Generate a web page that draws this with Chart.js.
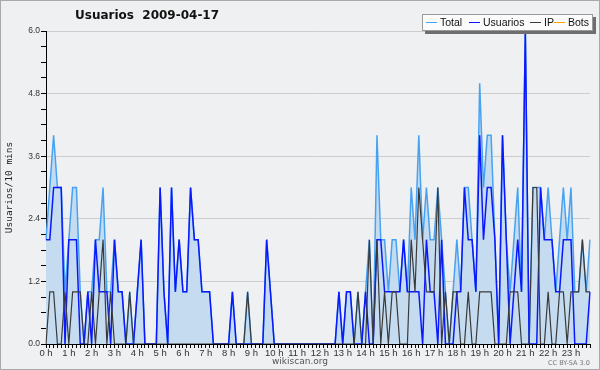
<!DOCTYPE html>
<html>
<head>
<meta charset="utf-8">
<script src="https://cdn.jsdelivr.net/npm/chart.js@4.4.1/dist/chart.umd.min.js"></script>
<style>
  html, body { margin: 0; padding: 0; background: #efefef; }
  #wrap { position: relative; width: 600px; height: 370px; background: #eff0f1; overflow: hidden; }
  #c { position: absolute; left: 0; top: 0; }
  #frame { position: absolute; left: 0; top: 0; width: 600px; height: 370px; box-sizing: border-box; border: 1px solid #a9a9a9; pointer-events: none; }
  #title { position: absolute; left: 75px; top: 8px; font: bold 12px "DejaVu Sans", sans-serif; color: #111; white-space: pre; }
  #legend { position: absolute; left: 422px; top: 14px; width: 171px; height: 17px; box-sizing: border-box; background: #fbfbfb; border: 1px solid #9a9a9a; box-shadow: 3px 3px 0 #6e6e6e; font: 10.5px "Liberation Sans", sans-serif; color: #111; white-space: nowrap; }
  #legend span.swatch { position: absolute; top: 7px; width: 11px; height: 0; border-top: 1.5px solid; }
  #legend span.txt { position: absolute; top: 1px; line-height: 13px; }
  #site { position: absolute; left: 0; width: 600px; top: 356px; text-align: center; font: 9px "DejaVu Sans", sans-serif; color: #555; }
  #lic { position: absolute; left: 548px; top: 359px; font: 6.5px "DejaVu Sans", sans-serif; color: #777; }
</style>
</head>
<body>
<div id="wrap">
  <canvas id="c" width="600" height="370"></canvas>
  <div id="title"></div>
  <div id="legend"></div>
  <div id="site">wikiscan.org</div>
  <div id="lic">CC BY-SA 3.0</div>
  <div id="frame"></div>
</div>
<script>
// ---- data (one point every 10 minutes, 144 points) ----
const chartTitle = 'Usuarios  2009-04-17';
const yAxisTitle = 'Usuarios/10 mins';
const hourLabels = ['0 h','1 h','2 h','3 h','4 h','5 h','6 h','7 h','8 h','9 h','10 h','11 h',
                    '12 h','13 h','14 h','15 h','16 h','17 h','18 h','19 h','20 h','21 h','22 h','23 h'];
const yTickLabels = ['0.0','1.2','2.4','3.6','4.8','6.0'];
const seriesNames = ['Total','Usuarios','IP','Bots'];
const seriesColors = ['#48a2f2','#0a18ff','#3a3a3a','#ffa500'];

const categories = [];
for (let h = 0; h < 24; h++) for (let m = 0; m < 60; m += 10) categories.push(h + ':' + String(m).padStart(2,'0'));

const totalValues = [
  2,3,4,3,3,1,2,3,3,1,  0,1,1,2,2,3,1,1,2,1,  1,0,1,0,1,2,0,0,0,0,
  3,1,0,3,1,2,1,1,3,2,  2,1,1,1,0,0,0,0,0,1,  0,0,0,1,0,0,0,0,2,1,
  0,0,0,0,0,0,0,0,0,0,  0,0,0,0,0,0,0,1,0,1,  1,0,1,0,1,2,0,4,2,2,
  1,2,2,1,2,1,3,2,4,2,  3,2,2,3,2,1,0,1,2,1,  3,3,2,1,5,3,4,4,2,0,
  4,2,1,2,3,1,6,0,3,3,  3,2,3,2,1,2,3,2,3,1,  1,2,1,2
];
const userValues = [
  2,2,3,3,3,0,2,2,2,0,  0,1,0,2,1,1,1,0,2,1,  1,0,0,0,1,2,0,0,0,0,
  3,1,0,3,1,2,1,1,3,2,  2,1,1,1,0,0,0,0,0,1,  0,0,0,0,0,0,0,0,2,1,
  0,0,0,0,0,0,0,0,0,0,  0,0,0,0,0,0,0,1,0,1,  1,0,0,0,1,0,0,2,2,1,
  1,1,1,1,2,1,1,1,1,0,  2,1,1,0,2,0,0,0,1,1,  3,2,2,1,4,2,3,3,2,0,
  4,2,0,1,2,1,6,0,0,0,  3,2,2,2,1,1,2,2,2,0,  0,0,0,1
];
const ipValues = [
  0,1,1,0,0,1,0,1,1,1,  0,0,1,0,1,2,0,1,0,0,  0,0,1,0,0,0,0,0,0,0,
  0,0,0,0,0,0,0,0,0,0,  0,0,0,0,0,0,0,0,0,0,  0,0,0,1,0,0,0,0,0,0,
  0,0,0,0,0,0,0,0,0,0,  0,0,0,0,0,0,0,0,0,0,  0,0,1,0,0,2,0,2,0,1,
  0,1,1,0,0,0,2,1,3,2,  1,1,1,3,0,1,0,1,1,0,  0,1,0,0,1,1,1,1,0,0,
  0,0,1,1,1,0,0,0,3,3,  0,0,1,0,0,1,1,0,1,1,  1,2,1,1
];
const botValues = [
  0,0,0,0,0,0,0,0,0,0,  0,0,0,0,0,0,0,0,0,0,  0,0,0,0,0,0,0,0,0,0,
  0,0,0,0,0,0,0,0,0,0,  0,0,0,0,0,0,0,0,0,0,  0,0,0,0,0,0,0,0,0,0,
  0,0,0,0,0,0,0,0,0,0,  0,0,0,0,0,0,0,0,0,0,  0,0,0,0,0,0,0,0,0,0,
  0,0,0,0,0,0,0,0,0,0,  0,0,0,0,0,0,0,0,0,0,  0,0,0,0,0,0,0,0,0,0,
  0,0,0,0,0,0,0,0,0,0,  0,0,0,0,0,0,0,0,0,0,  0,0,0,0
];

// ---- texts ----
document.getElementById('title').textContent = chartTitle;
const legendEl = document.getElementById('legend');
const legendSwatchX = [3, 46, 107, 131];
const legendTextX = [17, 60, 121, 145];
seriesNames.forEach((n, i) => {
  const sw = document.createElement('span'); sw.className = 'swatch';
  sw.style.borderTopColor = seriesColors[i]; sw.style.left = legendSwatchX[i] + 'px';
  const tx = document.createElement('span'); tx.className = 'txt';
  tx.style.left = legendTextX[i] + 'px'; tx.textContent = n;
  legendEl.appendChild(sw); legendEl.appendChild(tx);
});

const isMajor = v => Math.abs(v / 1.2 - Math.round(v / 1.2)) < 1e-6;

new Chart(document.getElementById('c').getContext('2d'), {
  type: 'line',
  data: {
    labels: categories,
    datasets: [
      { label: seriesNames[2], data: ipValues, borderColor: seriesColors[2], borderWidth: 1.2, pointRadius: 0, fill: false, order: 0 },
      { label: seriesNames[1], data: userValues, borderColor: seriesColors[1], borderWidth: 1.5, pointRadius: 0, fill: false, order: 1 },
      { label: seriesNames[0], data: totalValues, borderColor: seriesColors[0], backgroundColor: '#c5dcf0', borderWidth: 1.5, pointRadius: 0, fill: 'origin', order: 2 },
      { label: seriesNames[3], data: botValues, borderColor: seriesColors[3], borderWidth: 1, pointRadius: 0, fill: false, order: 3 }
    ]
  },
  options: {
    responsive: false,
    animation: false,
    devicePixelRatio: 1,
    events: [],
    layout: { padding: { left: 0, right: 10, top: 31, bottom: 0 } },
    elements: { line: { tension: 0 } },
    plugins: { legend: { display: false }, tooltip: { enabled: false }, title: { display: false } },
    scales: {
      x: {
        z: 1,
        ticks: {
          autoSkip: false, maxRotation: 0, minRotation: 0, padding: 0,
          color: '#333', font: { family: 'Liberation Sans', size: 9.5 },
          callback: (v, i) => (i % 6 === 0 ? hourLabels[i / 6] : '')
        },
        grid: { drawOnChartArea: false, drawTicks: true, tickLength: 4, color: '#000', tickColor: '#000' },
        border: { display: true, color: '#000', width: 1 },
        afterFit: s => { s.height = 26; }
      },
      y: {
        min: 0, max: 6,
        ticks: {
          stepSize: 0.3, autoSkip: false, padding: 1,
          color: '#333', font: { family: 'Liberation Sans', size: 8.5 },
          callback: v => (isMajor(v) ? yTickLabels[Math.round(v / 1.2)] : '')
        },
        grid: {
          drawTicks: true, tickLength: 5, tickColor: '#000',
          color: c => (c.tick && isMajor(c.tick.value) && c.tick.value > 0 ? '#cdcdcd' : 'rgba(0,0,0,0)')
        },
        border: { display: true, color: '#000', width: 1 },
        title: { display: true, text: yAxisTitle, color: '#222', font: { family: 'DejaVu Sans Mono', size: 9.5 }, padding: { top: 4, bottom: 0 } },
        afterFit: s => { s.width = 46; }
      }
    }
  }
});
</script>
</body>
</html>
